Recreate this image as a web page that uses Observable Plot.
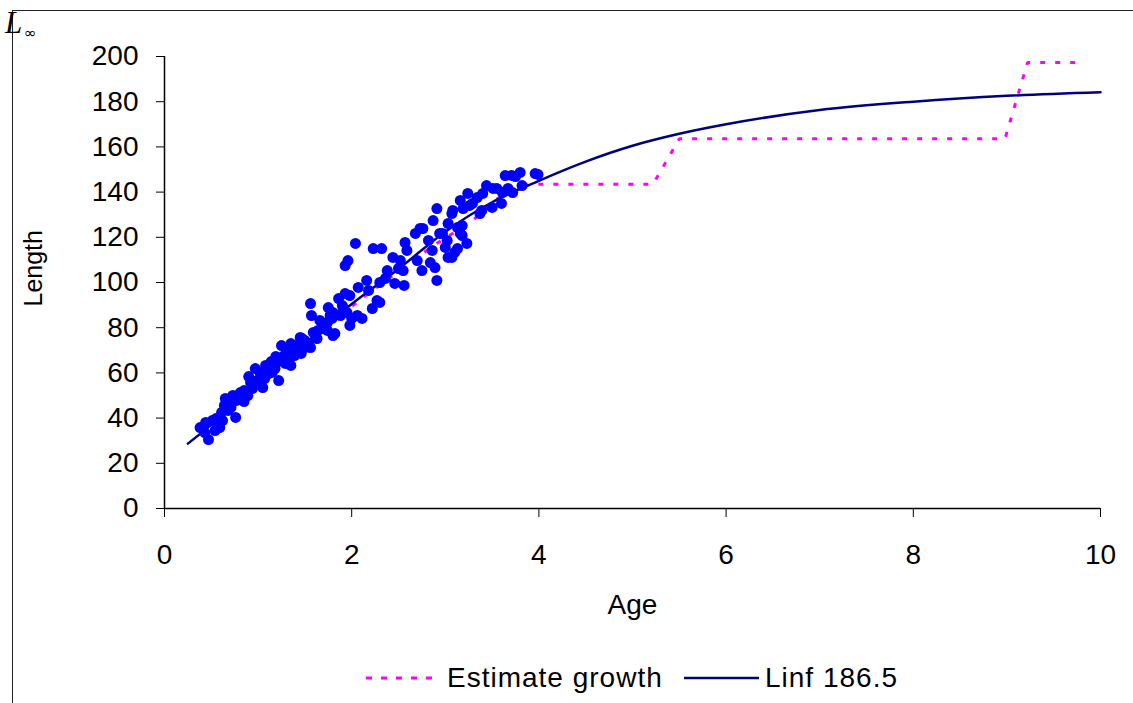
<!DOCTYPE html>
<html>
<head>
<meta charset="utf-8">
<script src="https://cdn.jsdelivr.net/npm/d3@7"></script>
<script src="https://cdn.jsdelivr.net/npm/@observablehq/plot@0.6"></script>
<style>
  body { margin: 0; background: #fff; }
  #wrap { position: relative; width: 1133px; height: 703px; overflow: hidden; background: #fff;
          font-family: Arial, "Liberation Sans", sans-serif; }
  #frame { position: absolute; left: 12px; top: 10px; right: -6px; bottom: -6px;
           border-top: 1.5px solid #222; border-left: 1.5px solid #222; pointer-events: none; }
  #linf { position: absolute; left: 0; top: 0; }
  .leg { position: absolute; }
  .legtxt { position: absolute; font-size: 28px; letter-spacing: 1px; line-height: 1; color: #000; white-space: nowrap; }
</style>
</head>
<body>
<div id="wrap">
  <div id="chart"></div>
  <div id="frame"></div>
  <svg id="linf" width="60" height="45">
    <text x="5" y="33" font-family="'Liberation Serif','Times New Roman',serif" font-style="italic" font-size="31">L</text>
    <text x="24" y="38" font-family="'DejaVu Sans',sans-serif" font-size="15">∞</text>
  </svg>
  <svg class="leg" style="left:360px;top:668px" width="80" height="20">
    <line x1="6" x2="72" y1="10" y2="10" stroke="#FF00FF" stroke-width="3" stroke-dasharray="6 9"></line>
  </svg>
  <div class="legtxt" style="left:447px;top:664px">Estimate growth</div>
  <svg class="leg" style="left:680px;top:668px" width="85" height="20">
    <line x1="4" x2="79" y1="10" y2="10" stroke="#000080" stroke-width="2.5"></line>
  </svg>
  <div class="legtxt" style="left:765px;top:664px">Linf 186.5</div>
</div>
<script>
// Observed data: age (years) and length
const obsAge = [
  0.38,0.47,0.44,0.51,0.59,0.61,0.64,0.65,0.69,0.76,0.71,0.79,0.85,0.85,0.92,0.90,0.97,1.05,1.07,1.11,
  1.22,1.14,1.19,1.25,1.29,1.35,1.39,1.46,1.50,1.35,1.31,1.47,1.54,1.59,1.63,1.70,1.74,1.79,1.82,1.77,
  1.56,1.57,1.75,1.90,1.95,2.00,1.98,2.06,2.11,2.22,2.30,1.96,1.93,1.86,1.93,1.98,2.07,2.16,2.18,1.80,
  1.74,1.68,1.80,1.56,1.38,2.27,2.30,2.38,2.36,2.46,2.44,2.50,2.23,2.04,2.32,2.52,2.59,2.55,2.57,2.70,
  2.75,2.68,2.76,2.82,2.86,2.84,2.91,2.89,2.87,2.91,2.94,3.02,3.00,3.07,3.10,3.03,3.07,3.13,3.18,3.16,
  3.19,3.24,3.23,3.29,3.34,3.39,3.44,3.50,3.55,3.60,3.61,3.64,3.71,3.67,3.72,3.80,3.82,3.96,3.99,1.45,
  3.03,3.13,2.73,3.26,3.51,3.40,3.08,3.37,3.18,2.97,3.16,3.75,
  0.43,0.54,0.55,0.62,0.68,0.73,0.77,0.81,0.89,0.94,0.99,1.02,1.08,1.15,1.18,1.24,1.28,1.32,1.41,1.43,
  1.50,1.64,1.66,1.88,1.91,2.56
];
const obsLength = [
  35.8,30.5,38.1,38.9,35.8,42.5,45.6,48.7,47.3,40.3,44.7,50.0,47.3,52.2,55.8,58.4,61.9,53.5,57.5,59.7,
  56.6,65.0,67.3,72.1,64.2,63.3,67.7,68.6,71.2,73.0,70.8,75.2,73.0,77.9,75.2,81.0,78.8,84.1,77.4,85.4,
  90.7,85.4,88.9,89.8,86.7,84.1,81.0,85.4,84.1,88.5,91.2,109.7,107.5,92.9,95.1,94.2,97.8,100.9,96.5,86.7,
  82.3,79.6,76.5,71.2,70.8,92.0,100.0,105.3,101.8,99.6,111.1,106.2,115.0,117.3,115.0,109.7,114.2,105.3,117.7,109.7,
  105.3,121.7,123.9,118.6,114.2,108.8,100.9,106.6,127.4,132.7,121.7,118.6,115.5,111.1,113.3,126.1,130.5,124.3,120.8,136.3,
  132.7,139.4,117.3,135.0,137.6,131.9,142.9,133.2,141.6,135.0,139.8,147.3,147.3,141.6,139.8,148.7,142.9,148.2,147.8,75.7,
  111.1,115.0,123.9,134.1,141.6,139.4,131.9,130.5,125.2,121.7,121.7,146.9,
  33.6,34.5,39.8,38.9,43.4,50.0,47.8,51.3,50.0,53.1,56.6,60.2,63.3,60.2,61.9,65.5,67.7,66.4,72.1,69.9,
  74.3,78.8,83.2,85.4,88.5,98.7
];

// Fitted growth curve "Linf 186.5"
const fitAge    = [0.25, 0.5, 1.0, 1.5, 2.0, 2.5, 3.0, 3.5, 4.0, 4.5, 5.0, 5.5, 6.0, 7.0, 8.0, 9.0, 10.0];
const fitLength = [28.7, 37.0, 55.0, 73.0, 90.5, 106.0, 122.5, 135.5, 145.0, 153.5, 160.5, 165.8, 170.0, 176.3, 180.0, 182.6, 184.2];

// "Estimate growth" stepped line
const estAge    = [0.5, 2.11, 2.86, 3.28, 3.55, 3.9, 5.22, 5.5, 8.98, 9.22, 9.76];
const estLength = [40.0, 93.0, 116.0, 127.0, 137.0, 143.5, 143.5, 163.6, 163.6, 197.3, 197.3];

// Axis ticks
const xTicks = [0, 2, 4, 6, 8, 10];
const yTicks = [0, 20, 40, 60, 80, 100, 120, 140, 160, 180, 200];

const obs = obsAge.map((a, i) => ({age: a, len: obsLength[i]}));
const fit = fitAge.map((a, i) => ({age: a, len: fitLength[i]}));
const est = estAge.map((a, i) => ({age: a, len: estLength[i]}));

const font = "Arial, 'Liberation Sans', sans-serif";

const chart = Plot.plot({
  width: 1133,
  height: 640,
  marginLeft: 164,
  marginRight: 33,
  marginTop: 56,
  marginBottom: 132,
  x: {domain: [0, 10]},
  y: {domain: [0, 200]},
  style: {fontFamily: font, background: "transparent", color: "#000", overflow: "visible"},
  marks: [
    Plot.axisX({ticks: xTicks, tickSize: 9, tickPadding: 27, fontSize: 28, label: null, tickFormat: d => String(d)}),
    Plot.axisY({ticks: yTicks, tickSize: 8, tickPadding: 18, fontSize: 28, label: null, tickFormat: d => String(d)}),
    Plot.ruleX([0], {stroke: "#000", strokeWidth: 1.5}),
    Plot.ruleY([0], {stroke: "#000", strokeWidth: 1.5}),
    Plot.text(["Age"], {frameAnchor: "bottom", dy: 105, fontSize: 28, fill: "#000"}),
    Plot.text(["Length"], {frameAnchor: "left", rotate: -90, dx: -131, dy: 24, fontSize: 25, fill: "#000"}),
    Plot.line(est, {x: "age", y: "len", stroke: "#FF00FF", strokeWidth: 3, strokeDasharray: "5 10", strokeLinecap: "butt", strokeLinejoin: "miter"}),
    Plot.line(fit, {x: "age", y: "len", stroke: "#000080", strokeWidth: 2.5, curve: "monotone-x"}),
    Plot.dot(obs, {x: "age", y: "len", r: 5.5, fill: "#0000FF", stroke: "none"})
  ]
});
document.getElementById("chart").appendChild(chart);
</script>
</body>
</html>
